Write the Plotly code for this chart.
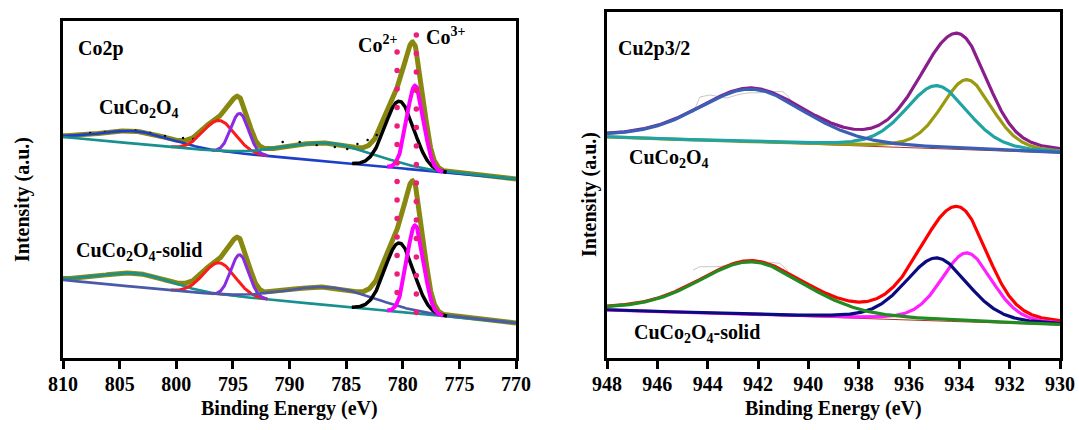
import numpy as np
import plotly.graph_objects as go

W, H = 1079, 430

# ---------------- Left panel: Co 2p ----------------
co_range = [810, 770]
co_ticks = [810, 805, 800, 795, 790, 785, 780, 775, 770]
co_bg_top = [221, 179]      # linear background at 810 / 770 eV
co_bg_bot = [78, 35]
co_centers = [803.5, 796.2, 794.4, 786.3, 780.3, 778.9]
co_hwhm = [3.6, 1.65, 0.92, 4.6, 1.5, 0.87]
co_height_top = [12.5, 31, 40, 18.5, 67, 84]
co_height_bot = [13.5, 32, 42, 18, 69, 88]
co_is_sat = [True, False, False, True, False, False]
co_colors_top = ["#1e3fc8", "#ff1a1a", "#8a2be2", "#17908f", "#000000", "#ff00ff"]
co_colors_bot = ["#17908f", "#ff1a1a", "#8a2be2", "#4a5aa8", "#000000", "#ff00ff"]
co_widths = [3, 3, 3, 3, 3.5, 4]

# raw data (top, black)
co_raw_top_E = [809.4, 807.6, 806.3, 805.0, 803.6, 802.3, 801.0, 799.4, 798.5,
                790.6, 789.1, 787.6, 786.0, 784.9, 784.0, 783.1, 782.3]
co_raw_top_I = [222, 225, 226, 227, 227.5, 225, 222, 220, 219,
                216, 216, 213, 211, 209, 214, 218, 223]

# Co2+ / Co3+ marker lines (energy, top, bottom)
co_mark_E = [780.5, 778.8]
co_mark_top = [306, 323]
co_mark_bot = [51, 45]
co_mark_step = 18.5

# ---------------- Right panel: Cu 2p3/2 ----------------
cu_range = [948, 930]
cu_ticks = [948, 946, 944, 942, 940, 938, 936, 934, 932, 930]
cu_bg_top = [221, 205]      # at 948 / 930 eV
cu_bg_bot = [48, 33]
cu_centers = [942.25, 934.9, 933.7]
cu_hwhm = [2.52, 1.47, 1.2]
cu_height_top = [53, 63, 70]
cu_height_bot = [53, 63, 69]
cu_colors_top = ["#3b5fb5", "#22a3a3", "#9a9a10"]
cu_env_top = "#8a1c8c"
cu_colors_bot = ["#228b22", "#0b0b80", "#ff20ff"]
cu_env_bot = "#ff0000"

cu_raw_top_E = [944.58, 944.31, 943.91, 943.23, 942.84, 942.44, 941.92, 941.52, 941.01, 940.85, 940.61, 940.33]
cu_raw_top_I = [245, 261, 263, 260, 263, 265, 265.3, 266.3, 266.3, 263, 255, 248]
cu_raw_bot_E = [944.58, 944.31, 943.63, 943.11, 942.44, 941.80, 941.13, 940.85, 940.73]
cu_raw_bot_I = [88, 91.3, 91.3, 93, 96.3, 96.3, 94.7, 88, 81.3]


def gl(x, c, h, w, m):
    d2 = ((x - c) / w) ** 2
    return h * ((1 - m) * np.exp(-np.log(2) * d2) + m / (1 + d2))


def bg_line(x, r, b):
    return b[0] + (b[1] - b[0]) * (x - r[0]) / (r[1] - r[0])


fig = go.Figure()

# ---- left panel traces ----
xl = np.linspace(770, 810, 1201)
for bg, heights, colors, raw in [
    (co_bg_top, co_height_top, co_colors_top, (co_raw_top_E, co_raw_top_I)),
    (co_bg_bot, co_height_bot, co_colors_bot, None),
]:
    base = bg_line(xl, co_range, bg)
    comps = [gl(xl, c, h, w, 0.0) for c, h, w in zip(co_centers, heights, co_hwhm)]
    env = base + sum(comps)
    fig.add_trace(go.Scatter(x=xl, y=env, mode="lines",
                             line=dict(color="#888810", width=5), xaxis="x", yaxis="y"))
    if raw is not None:
        fig.add_trace(go.Scatter(x=raw[0], y=raw[1], mode="markers",
                                 marker=dict(color="black", size=2.5),
                                 xaxis="x", yaxis="y"))
    fig.add_trace(go.Scatter(x=xl, y=base, mode="lines",
                             line=dict(color="#ff3030", width=1), xaxis="x", yaxis="y"))
    for comp, col, lw, sat in zip(comps, colors, co_widths, co_is_sat):
        yv = base + comp
        if not sat:
            yv = np.where(comp > 0.3, yv, np.nan)
        fig.add_trace(go.Scatter(x=xl, y=yv, mode="lines",
                                 line=dict(color=col, width=lw if not sat else 2.6),
                                 xaxis="x", yaxis="y"))

for e, t, b in zip(co_mark_E, co_mark_top, co_mark_bot):
    ys = np.arange(t, b, -co_mark_step)
    fig.add_trace(go.Scatter(x=np.full(len(ys), e), y=ys, mode="markers",
                             marker=dict(color="#ec1e79", size=5.5, symbol="circle"),
                             xaxis="x", yaxis="y"))

# ---- right panel traces ----
xr = np.linspace(930, 948, 901)
for bg, heights, colors, envc, raw in [
    (cu_bg_top, cu_height_top, cu_colors_top, cu_env_top, (cu_raw_top_E, cu_raw_top_I)),
    (cu_bg_bot, cu_height_bot, cu_colors_bot, cu_env_bot, (cu_raw_bot_E, cu_raw_bot_I)),
]:
    base = bg_line(xr, cu_range, bg)
    comps = [gl(xr, c, h, w, 0.3) for c, h, w in zip(cu_centers, heights, cu_hwhm)]
    env = base + sum(comps)
    fig.add_trace(go.Scatter(x=raw[0], y=raw[1], mode="lines",
                             line=dict(color="#c8c8c8", width=1), xaxis="x2", yaxis="y2"))
    fig.add_trace(go.Scatter(x=xr, y=base, mode="lines",
                             line=dict(color="#b03020", width=1), xaxis="x2", yaxis="y2"))
    fig.add_trace(go.Scatter(x=xr, y=env, mode="lines",
                             line=dict(color=envc, width=3.2), xaxis="x2", yaxis="y2"))
    for idx in [2, 1, 0]:
        fig.add_trace(go.Scatter(x=xr, y=base + comps[idx], mode="lines",
                                 line=dict(color=colors[idx], width=3.2),
                                 xaxis="x2", yaxis="y2"))

FONT = "Liberation Serif"
tickfont = dict(family=FONT, size=20, color="black", weight="bold")
axis_common = dict(showline=True, linecolor="black", linewidth=2.5, mirror=True,
                   showgrid=False, zeroline=False, automargin=False)

fig.update_layout(
    template="none",
    width=W, height=H, margin=dict(l=0, r=0, t=0, b=0, pad=0, autoexpand=False),
    paper_bgcolor="white", plot_bgcolor="white", showlegend=False,
    xaxis=dict(domain=[63 / W, 516 / W], anchor="y", range=co_range, tickvals=co_ticks,
               ticks="outside", ticklen=8, tickwidth=2.5, tickcolor="black",
               ticklabelstandoff=-2, tickfont=tickfont, **axis_common),
    yaxis=dict(domain=[1 - 358 / H, 1 - 21 / H], anchor="x", range=[0, 337],
               showticklabels=False, ticks="", **axis_common),
    xaxis2=dict(domain=[607 / W, 1060 / W], anchor="y2", range=cu_range, tickvals=cu_ticks,
                ticks="outside", ticklen=8, tickwidth=2.5, tickcolor="black",
                ticklabelstandoff=-2, tickfont=tickfont, **axis_common),
    yaxis2=dict(domain=[1 - 358 / H, 1 - 12 / H], anchor="x2", range=[0, 346],
                showticklabels=False, ticks="", **axis_common),
)


def ann(text, x, y, xanchor="left", size=20, angle=0):
    fig.add_annotation(text=text, x=x / W, y=1 - y / H, xref="paper", yref="paper",
                       xanchor=xanchor, yanchor="middle", showarrow=False, textangle=angle,
                       font=dict(family=FONT, size=size, color="black", weight="bold"))


ann("Co2p", 76, 48)
ann("CuCo<sub>2</sub>O<sub>4</sub>", 97, 108)
ann("CuCo<sub>2</sub>O<sub>4</sub>-solid", 74, 251)
ann("Co<sup>2+</sup>", 356, 44)
ann("Co<sup>3+</sup>", 424, 36)
ann("Cu2p3/2", 616, 48)
ann("CuCo<sub>2</sub>O<sub>4</sub>", 627, 158)
ann("CuCo<sub>2</sub>O<sub>4</sub>-solid", 632, 333)
ann("Binding Energy (eV)", 289.5, 408, xanchor="center")
ann("Binding Energy (eV)", 833.5, 408, xanchor="center")
ann("Intensity (a.u.)", 23, 200, xanchor="center", angle=-90)
ann("Intensity (a.u.)", 590, 195, xanchor="center", angle=-90)

fig.write_html("out.html")
